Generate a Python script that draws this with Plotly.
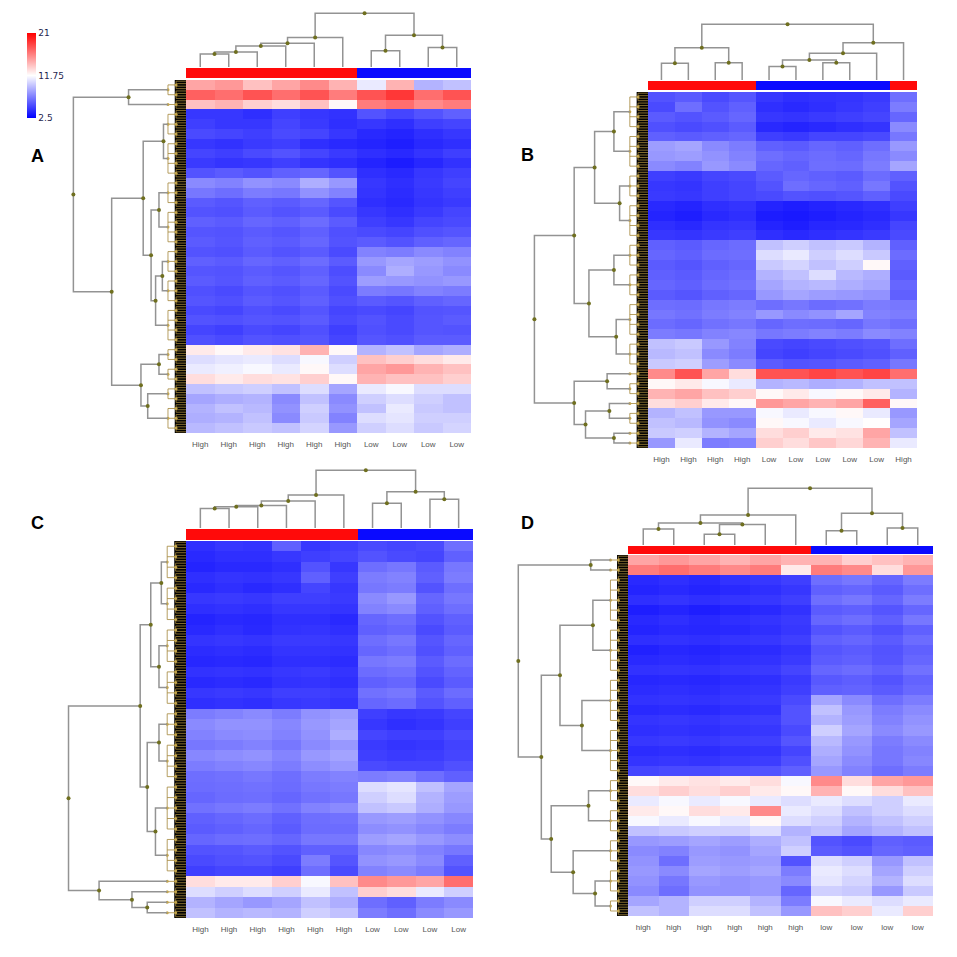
import plotly.graph_objects as go

# colour scale of the heatmaps
z_min, z_mid, z_max = 2.5, 11.75, 21

# column labels of the four panels
labels_a = ["High", "High", "High", "High", "High", "High", "Low", "Low", "Low", "Low"]
labels_b = ["High", "High", "High", "High", "Low", "Low", "Low", "Low", "Low", "High"]
labels_c = ["High", "High", "High", "High", "High", "High", "Low", "Low", "Low", "Low"]
labels_d = ["high", "high", "high", "high", "high", "high", "low", "low", "low", "low"]

# expression values, rows top -> bottom
z_a = [
    [15, 15.5, 14, 15, 16, 14.5, 11, 14.5, 9, 9.5],
    [17.5, 17, 18, 17, 18, 16.5, 18, 19, 17, 18],
    [14, 14.5, 13.5, 13, 14, 12, 16.5, 17, 16, 16.5],
    [4.5, 4.5, 4.2, 4.8, 4.5, 4.3, 5.5, 5, 5.5, 6],
    [4.8, 4.5, 4.5, 5, 4.6, 4.2, 4.5, 4.2, 4.8, 5],
    [5.2, 5, 4.8, 5.2, 5, 4.5, 4, 3.8, 4.2, 4.5],
    [4.5, 4.3, 4.6, 4.8, 4.2, 4, 3.8, 3.6, 4, 4.2],
    [5, 4.8, 5.2, 5.5, 5, 4.6, 4.2, 4, 4.4, 4.8],
    [4.6, 4.4, 4.5, 4.8, 4.4, 4.2, 3.8, 3.5, 3.9, 4.3],
    [5.5, 5.8, 5.5, 6, 6.2, 5.5, 4.2, 4, 4.5, 4.8],
    [7.5, 7.2, 7.8, 7.5, 8.8, 8, 4.5, 4.2, 4.6, 5],
    [6.8, 6.5, 7, 6.8, 7.8, 7.2, 4.4, 4.1, 4.5, 4.8],
    [5.8, 5.6, 6, 5.8, 6.2, 5.6, 4.2, 4, 4.4, 4.6],
    [5.5, 5.4, 5.8, 5.5, 5.8, 5.2, 4.5, 4.2, 4.6, 5],
    [6, 5.8, 6.2, 6, 6.4, 5.8, 4.8, 4.5, 5, 5.2],
    [5.6, 5.5, 5.8, 5.6, 6, 5.4, 5.2, 5, 5.4, 5.6],
    [5.8, 5.6, 6, 5.8, 6.2, 5.5, 5.8, 5.5, 6, 6.2],
    [5.5, 5.4, 5.8, 5.5, 5.8, 5.2, 7.2, 7, 7.5, 7.2],
    [6, 5.8, 6.2, 6, 6.4, 5.8, 8, 8.5, 8.2, 7.8],
    [5.6, 5.5, 5.8, 5.6, 6, 5.3, 7.5, 8.8, 8, 7.5],
    [5.8, 5.6, 6, 5.8, 6.2, 5.5, 8.2, 8, 7.8, 8],
    [5.4, 5.2, 5.6, 5.4, 5.8, 5.2, 7, 6.8, 7.2, 7],
    [5.6, 5.4, 5.8, 5.6, 6, 5.4, 5.8, 5.6, 6, 6.2],
    [5.2, 5, 5.4, 5.2, 5.6, 5, 5.2, 5, 5.5, 5.6],
    [5.5, 5.4, 5.6, 5.5, 5.8, 5.2, 5.5, 5.2, 5.6, 5.8],
    [5, 4.8, 5.2, 5, 5.4, 4.8, 5.4, 5.2, 5.6, 5.5],
    [5.4, 5.2, 5.5, 5.4, 5.6, 5, 5.6, 5.4, 5.8, 5.8],
    [12.5, 12, 12.5, 12.8, 14.5, 12, 9, 9.5, 8.5, 8.8],
    [10.5, 10.8, 11, 10.5, 11.5, 10, 14, 13.5, 13, 12.5],
    [11, 11.2, 11.5, 11, 12, 10.5, 15, 15.5, 14.5, 14],
    [13, 12.5, 13, 12.8, 13.5, 12, 14.5, 14, 14, 13.5],
    [9.5, 9.8, 10, 9.5, 10.5, 8.5, 11, 11.5, 10.5, 10.5],
    [8.5, 8.8, 9, 7.5, 9.5, 7.5, 10, 10.5, 10, 9.5],
    [9, 9.5, 9.2, 7.8, 10, 7.8, 9.5, 11, 9.8, 9.5],
    [8.8, 9, 9.5, 7.5, 9.8, 7.2, 10.5, 10.8, 10, 10],
    [9.2, 9.5, 9.8, 9.5, 10.2, 8, 10, 10.5, 9.8, 10.2],
]

z_b = [
    [5.5, 5.8, 5.2, 5.6, 4.5, 4.2, 4.3, 4.4, 4.6, 6.5],
    [5.2, 6.5, 5.5, 6, 4.2, 4, 4.2, 4.5, 4.8, 7],
    [5.8, 5.5, 5.8, 6.2, 4.5, 4.4, 4.6, 4.8, 5, 6.2],
    [5.4, 5.2, 5.4, 5.8, 4, 3.8, 4, 4.2, 4.4, 7.5],
    [6, 5.8, 6, 6.2, 4.8, 4.6, 5, 5, 5.2, 6.8],
    [8.2, 8.5, 7.5, 7, 6, 5.8, 6.2, 6, 6.5, 8],
    [8, 8.2, 7.8, 7.2, 6.5, 6.2, 6.4, 6.2, 6.8, 7.5],
    [7.5, 7.2, 8, 7.5, 6.2, 6, 6.5, 6.4, 7, 8.5],
    [4.8, 4.6, 5, 5.2, 5.8, 6.2, 6, 5.8, 6.4, 6],
    [4.5, 4.4, 4.8, 5, 5.5, 6.5, 6.2, 6, 6.8, 5.5],
    [4.6, 4.5, 4.8, 5, 5.2, 5.5, 5.4, 5.6, 6, 5.2],
    [4, 3.8, 4.2, 4.4, 3.8, 3.6, 3.8, 4, 4.2, 4.8],
    [3.8, 3.6, 4, 4.2, 3.5, 3.4, 3.6, 3.8, 4, 4.5],
    [4.2, 4, 4.4, 4.5, 3.8, 3.6, 3.9, 4, 4.2, 5],
    [4.5, 4.4, 4.6, 4.8, 4.2, 4, 4.2, 4.4, 4.6, 5.2],
    [6, 5.8, 6.2, 6.4, 9.5, 10, 9.5, 9.8, 9, 6],
    [6.2, 6, 6.4, 6.5, 10.5, 11, 10, 10.5, 9.8, 6.4],
    [5.8, 5.6, 6, 6.2, 9.8, 10.2, 9.5, 10, 12, 6],
    [6, 5.8, 6.2, 6.4, 9, 9.5, 10.5, 9.2, 8.8, 5.8],
    [6.2, 6, 6.4, 6.6, 8.5, 9, 9.2, 8.8, 8.5, 6.2],
    [5.8, 5.6, 6, 6.2, 8, 8.5, 8.2, 8, 7.8, 6],
    [6.5, 6.4, 6.8, 7, 6.5, 6.8, 6.4, 6.6, 7, 6.8],
    [6.8, 6.6, 7, 7.2, 8, 7.5, 7.8, 8.5, 7.2, 7],
    [6.4, 6.2, 6.6, 6.8, 6.2, 6.5, 6.4, 6.2, 6.8, 6.5],
    [7, 6.8, 7.2, 7.4, 6.8, 7, 7.2, 7, 7.5, 7.2],
    [9.5, 9.8, 8, 7.2, 5.2, 5, 5.2, 5.4, 5.6, 6.5],
    [9.2, 9.5, 7.5, 7, 5, 4.8, 5, 5.2, 5.4, 6],
    [9.8, 10, 8.2, 7.5, 5.8, 5.5, 5.6, 5.8, 6, 6.8],
    [16, 18, 15, 13, 18, 18, 18.5, 18, 18.5, 17],
    [12, 12.5, 11.5, 11, 9, 9.2, 8.8, 9, 9.5, 9.5],
    [14.5, 15, 14, 13.5, 12, 12.5, 11.5, 12, 12.5, 9],
    [13, 13.5, 12.5, 12, 15.5, 15, 14.5, 15, 17.5, 12],
    [9, 9.5, 8, 8, 11.5, 11, 11.5, 12, 11, 8],
    [9.5, 9.2, 7.8, 7.5, 12, 11.5, 11, 11.5, 11.8, 8.5],
    [9.8, 10, 9, 8.5, 13, 13.5, 12.5, 12.8, 15, 9.5],
    [8, 11, 7, 7.2, 13.5, 13, 13.8, 13.2, 14.5, 11],
]

z_c = [
    [4.2, 4.5, 4.4, 6, 4.5, 4.8, 5.2, 5, 5.2, 6.5],
    [4, 4.2, 4.2, 4.5, 4.8, 5, 5.5, 5.2, 5, 6],
    [3.8, 4, 4, 4.2, 5.5, 4.5, 6.5, 6.8, 5.8, 6.8],
    [4.2, 4.4, 4.3, 4.5, 6, 4.8, 7, 7.2, 6, 7],
    [4, 4.2, 4, 4.2, 5, 4.5, 6.8, 7, 5.5, 6.5],
    [4.5, 4.6, 4.5, 4.8, 4.8, 4.6, 7.5, 8, 6.2, 6.8],
    [4.2, 4.3, 4.2, 4.5, 4.5, 4.4, 7.2, 7.5, 6, 6.5],
    [3.8, 4, 3.9, 4.2, 4.2, 4, 6.2, 6.5, 5.5, 6],
    [4, 4.2, 4, 4.3, 4.4, 4.2, 6, 6.2, 5.2, 5.8],
    [4.4, 4.5, 4.4, 4.6, 4.6, 4.5, 6.5, 6.8, 5.6, 6.2],
    [4.1, 4.2, 4.1, 4.4, 4.4, 4.3, 6.2, 6.5, 5.4, 6],
    [3.9, 4, 3.9, 4.2, 4.2, 4.1, 6.8, 7, 5.8, 6.4],
    [4.3, 4.4, 4.3, 4.5, 4.6, 4.4, 6.4, 6.6, 5.5, 6.1],
    [4, 4.1, 4, 4.3, 4.4, 4.2, 6, 6.2, 5.2, 5.8],
    [4.5, 4.6, 4.5, 4.8, 4.8, 4.6, 6.6, 6.8, 5.8, 6.4],
    [4.2, 4.3, 4.2, 4.5, 4.6, 4.4, 6.2, 6.4, 5.5, 6],
    [7, 7.2, 7.5, 7, 7.8, 8.2, 4.8, 4.5, 4.6, 5],
    [7.5, 7.8, 7.8, 7.4, 8, 8.5, 4.5, 4.2, 4.4, 4.8],
    [7.2, 7.5, 7.6, 7.2, 7.8, 8.8, 5, 4.8, 4.8, 5.2],
    [6.8, 7, 7.2, 6.8, 7.5, 8, 4.6, 4.4, 4.5, 4.9],
    [7.4, 7.6, 7.8, 7.3, 8, 8.4, 4.8, 4.6, 4.7, 5],
    [7, 7.2, 7.4, 7, 7.6, 8, 5.2, 5, 5, 5.4],
    [6.5, 6.6, 6.8, 6.5, 7, 7.2, 7, 7.2, 6.5, 6],
    [6.4, 6.5, 6.6, 6.4, 6.8, 7, 10.5, 10.8, 9.5, 8.5],
    [6.2, 6.4, 6.5, 6.2, 6.6, 6.8, 10, 10.5, 9, 8.2],
    [6.6, 6.8, 7, 6.6, 7.2, 7.5, 9.5, 9.8, 8.8, 8],
    [6, 6.2, 6.4, 6, 6.5, 6.6, 8, 8.2, 7.8, 7.4],
    [5.8, 6, 6.2, 5.8, 6.4, 6.4, 7.6, 7.8, 7.4, 7],
    [6.2, 6.4, 6.5, 6.2, 6.8, 6.8, 8.2, 8.5, 8, 7.6],
    [5.5, 5.6, 5.8, 5.5, 6, 6, 7.4, 7.6, 7.2, 6.8],
    [5.2, 5.4, 5.5, 5.2, 7, 5.6, 7.8, 8, 7.5, 6],
    [4.8, 5, 5, 4.8, 6.5, 5.2, 7.2, 7.5, 7, 5.5],
    [13, 12.5, 12.5, 13.5, 11.5, 14, 16, 15.5, 15, 17],
    [10.5, 10, 10.5, 10, 11, 9.5, 13.5, 13, 11, 10],
    [9, 8.5, 8, 8.5, 9.5, 8.8, 6.5, 6, 7, 7.5],
    [9.5, 9, 9.2, 9, 10, 9.5, 7, 6.5, 7.5, 8],
]

z_d = [
    [15, 15.5, 15, 14.5, 15, 14.5, 14.5, 13.5, 14, 14.5],
    [16.5, 17, 16.5, 16, 16.5, 12.5, 16.5, 16, 13, 15.5],
    [4, 4.2, 4, 4.3, 4.5, 4.8, 6.5, 6.8, 6.2, 7],
    [3.8, 4, 3.8, 4, 4.2, 4.5, 6, 6.2, 5.8, 6.5],
    [4.2, 4.4, 4.2, 4.4, 4.5, 4.8, 6.5, 6.8, 6.2, 7],
    [3.6, 3.8, 3.6, 3.8, 4, 4.3, 5.8, 6, 5.6, 6.2],
    [4, 4.2, 4, 4.2, 4.4, 4.6, 6.2, 6.5, 6, 6.8],
    [3.8, 4, 3.9, 4, 4.2, 4.5, 5.5, 5.8, 5.4, 6],
    [4.2, 4.3, 4.2, 4.4, 4.5, 4.8, 6, 6.2, 5.8, 6.4],
    [3.7, 3.9, 3.8, 4, 4.1, 4.4, 5.6, 5.8, 5.5, 6],
    [4, 4.1, 4, 4.2, 4.3, 4.6, 5.8, 6, 5.6, 6.2],
    [4.3, 4.4, 4.3, 4.5, 4.6, 5, 6.2, 6.4, 6, 6.6],
    [3.9, 4, 3.9, 4.1, 4.2, 4.6, 5.7, 5.9, 5.5, 6.1],
    [4.1, 4.2, 4.1, 4.3, 4.4, 4.8, 6, 6.1, 5.8, 6.3],
    [4.3, 4.4, 4.3, 4.5, 4.6, 5.2, 8.5, 7.5, 6.5, 7],
    [4, 4.1, 4, 4.2, 4.3, 5.5, 9.5, 8, 7, 7.5],
    [4.4, 4.5, 4.4, 4.6, 4.7, 5.5, 9, 8.2, 7.2, 7.8],
    [4.2, 4.3, 4.2, 4.4, 4.5, 5.2, 10, 8.5, 7.5, 8],
    [4.5, 4.6, 4.5, 4.7, 4.8, 5.6, 9.2, 8, 7, 7.5],
    [4.1, 4.2, 4.1, 4.3, 4.4, 5, 8.8, 7.8, 6.8, 7.2],
    [4.4, 4.5, 4.4, 4.6, 4.7, 5.4, 8.5, 7.5, 6.8, 7.4],
    [5, 5.2, 5.2, 5.4, 5.5, 6, 8, 7.2, 6.5, 7],
    [12, 12.5, 12.8, 12.5, 13, 11.5, 16, 13, 15, 15.5],
    [13, 13.5, 13, 13.5, 12.5, 12, 14.5, 12, 13, 14],
    [11, 11.5, 11, 11.5, 11, 10.5, 11, 10.5, 10, 11],
    [12.5, 12, 13, 12.5, 16, 11, 10.5, 9.5, 10, 10.5],
    [11.5, 11, 11.5, 11, 12, 10.5, 10, 9, 9.5, 10],
    [9.5, 9.8, 10, 10, 10.5, 9, 9.5, 8.5, 9, 9.5],
    [8, 8.2, 8.5, 8.2, 8.8, 9.5, 5.5, 5.2, 6, 5.8],
    [7.5, 7.2, 8, 7.8, 8.5, 10, 5.8, 5.5, 6.2, 6],
    [7.8, 6.5, 8.2, 8, 8.2, 5.5, 10.5, 10, 8, 9.5],
    [8, 7.5, 8.5, 8.2, 8.5, 7, 11, 10.5, 8.5, 10],
    [7.8, 6.8, 8, 7.8, 8, 7.5, 10.8, 10.2, 9, 10.5],
    [7.5, 6.5, 7.8, 7.8, 8, 6.2, 10, 9.8, 8, 9.8],
    [8.5, 9, 10, 10, 9, 7, 11.5, 11, 10.5, 11],
    [9.5, 9, 10.5, 10.5, 9.5, 8, 14, 13.5, 11, 13.5],
]

# column clustering: (height, left, right), leaves are column indices
cols_a = (1.0, (0.55, (0.44, (0.39, (0.28, (0.24, 0, 1), 2), 3), 4), 5), (0.59, (0.3, 6, 7), (0.36, 8, 9)))
cols_b = (1.0, (0.58, (0.3, 0, 1), (0.31, 2, 3)), (0.67, (0.48, (0.36, (0.24, 4, 5), (0.31, 6, 7)), 8), 9))
cols_c = (1.0, (0.57, (0.47, (0.39, (0.37, (0.34, 0, 1), 2), 3), 4), 5), (0.63, (0.43, 6, 7), (0.5, 8, 9)))
cols_d = (1.0, (0.53, (0.39, (0.28, 0, 1), (0.36, (0.19, 2, 3), 4)), 5), (0.56, (0.25, 6, 7), (0.3, 8, 9)))

# row clustering: (height, left, right), leaves are row blocks (first, end)
rows_a = (1.0, (0.51, (0, 2), (2, 3)),
          (0.66, (0.38, (0.2, (3, 6), (6, 10)),
                  (0.31, (0.24, (10, 13), (13, 17)), (0.27, (0.21, (17, 20), (20, 23)), (23, 27)))),
           (0.4, (0.24, (27, 29), (29, 31)), (0.34, (31, 33), (33, 36)))))
rows_b = (1.0, (0.65, (0.47, (0.3, (0, 4), (4, 8)), (0.25, (8, 11), (11, 15))),
                (0.52, (0.3, (15, 18), (18, 21)), (0.28, (21, 25), (25, 28)))),
          (0.65, (0.36, (28, 29), (29, 31)), (0.55, (0.34, (31, 32), (32, 34)), (0.3, (34, 35), (35, 36)))))
rows_c = (1.0, (0.39, (0.3, (0.21, (0, 4), (4, 8)), (0.23, (8, 12), (12, 16))),
                (0.33, (0.23, (16, 19), (19, 23)), (0.26, (23, 28), (28, 32)))),
          (0.74, (32, 33), (0.46, (33, 34), (0.33, (34, 35), (35, 36)))))
rows_d = (1.0, (0.34, (0, 1), (1, 2)),
          (0.79, (0.62, (0.32, (2, 7), (7, 12)), (0.42, (12, 17), (17, 22))),
           (0.7, (0.36, (22, 25), (25, 28)), (0.5, (28, 31), (0.3, (31, 34), (34, 36))))))

panel_letters = ["A", "B", "C", "D"]

# the page has an 8px body margin, so the figure is drawn 8px in from the corner
OFF = 8
W = H = 957 - 2 * OFF
LEAF_H = 0.16
TREE_GREY = "#939393"
NODE_OLIVE = "#6f6f1f"
LEAF_GOLD = "#a3863a"

# pixel layout (page coords) of each panel: heatmap box, group bar, column tree top, row tree root
geoms = [
    dict(x0=186, x1=471, y0=80, y1=433, bar=(68, 78), top=13, root=72, letter=(37, 156)),
    dict(x0=648, x1=917, y0=92, y1=448, bar=(81, 90), top=24, root=533, letter=(527, 155)),
    dict(x0=186, x1=473, y0=541, y1=918, bar=(529, 540), top=470, root=67, letter=(37, 523)),
    dict(x0=628, x1=933, y0=555, y1=916, bar=(546, 554), top=488, root=517, letter=(527, 523)),
]


def px_x(v):
    return (v - OFF) / W


def px_y(v):
    return 1 - (v - OFF) / H


def col_tree(node, xs, ys, dots):
    if isinstance(node, int):
        return node, 0.0
    h, left, right = node
    xl, hl = col_tree(left, xs, ys, dots)
    xr, hr = col_tree(right, xs, ys, dots)
    xs += [xl, xl, xr, xr, None]
    ys += [hl, h, h, hr, None]
    xm = (xl + xr) / 2
    dots.append((xm, h))
    return xm, h


def row_tree(node, hs, rs, dots, lh, lr, ldots):
    if len(node) == 2:
        # a block of rows: a little fan of twigs down to every row
        a, b = node
        mid = LEAF_H * 0.55
        for r in range(a, b):
            lh += [LEAF_H, mid, None, mid, mid, None]
            lr += [r, r, None, r - 0.38, r + 0.38, None]
            for off in (-0.38, -0.13, 0.13, 0.38):
                lh += [mid, 0, None]
                lr += [r + off, r + off, None]
            ldots.append((mid, r))
        if b - a > 1:
            lh += [LEAF_H, LEAF_H, None]
            lr += [a, b - 1, None]
        yc = (a + b - 1) / 2
        ldots.append((LEAF_H, yc))
        return LEAF_H, yc
    h, left, right = node
    hl, yl = row_tree(left, hs, rs, dots, lh, lr, ldots)
    hr, yr = row_tree(right, hs, rs, dots, lh, lr, ldots)
    hs += [hl, h, h, hr, None]
    rs += [yl, yl, yr, yr, None]
    ym = (yl + yr) / 2
    dots.append((h, ym))
    return h, ym


fig = go.Figure()
layout_axes = {}
shapes = []
annotations = []

panels = [
    (z_a, labels_a, cols_a, rows_a),
    (z_b, labels_b, cols_b, rows_b),
    (z_c, labels_c, cols_c, rows_c),
    (z_d, labels_d, cols_d, rows_d),
]

for p, (z, labels, ctree, rtree) in enumerate(panels):
    g = geoms[p]
    n_rows = len(z)
    n_cols = len(labels)
    ids = [p * 4 + k + 1 for k in range(4)]
    xa = ["x" if i == 1 else f"x{i}" for i in ids]
    ya = ["y" if i == 1 else f"y{i}" for i in ids]
    xk = ["xaxis" if i == 1 else f"xaxis{i}" for i in ids]
    yk = ["yaxis" if i == 1 else f"yaxis{i}" for i in ids]
    hidden = dict(visible=False, showgrid=False, zeroline=False, fixedrange=True)

    # heatmap
    fig.add_trace(go.Heatmap(z=z, x=list(range(n_cols)), y=list(range(n_rows)),
                             coloraxis="coloraxis", xaxis=xa[0], yaxis=ya[0],
                             hoverinfo="skip"))
    layout_axes[xk[0]] = dict(domain=[px_x(g["x0"]), px_x(g["x1"])], anchor=ya[0],
                              range=[-0.5, n_cols - 0.5], tickvals=list(range(n_cols)),
                              ticktext=labels, showgrid=False, zeroline=False,
                              ticks="outside", ticklen=3, tickcolor="rgba(0,0,0,0)",
                              tickfont=dict(family="Liberation Sans", size=8, color="#555555"))
    layout_axes[yk[0]] = dict(domain=[px_y(g["y1"]), px_y(g["y0"])], anchor=xa[0],
                              range=[n_rows - 0.5, -0.5], **hidden)

    # group bar
    bar_z = [[1 if lab.lower() == "high" else 0 for lab in labels]]
    fig.add_trace(go.Heatmap(z=bar_z, x=list(range(n_cols)), zmin=0, zmax=1,
                             colorscale=[[0, "#0a0aff"], [1, "#ff0a0a"]], showscale=False,
                             xaxis=xa[1], yaxis=ya[1], hoverinfo="skip"))
    layout_axes[xk[1]] = dict(domain=[px_x(g["x0"]), px_x(g["x1"])], anchor=ya[1],
                              range=[-0.5, n_cols - 0.5], **hidden)
    layout_axes[yk[1]] = dict(domain=[px_y(g["bar"][1]), px_y(g["bar"][0])], anchor=xa[1],
                              range=[-0.5, 0.5], **hidden)

    # column dendrogram
    xs, ys, dots = [], [], []
    col_tree(ctree, xs, ys, dots)
    fig.add_trace(go.Scatter(x=xs, y=ys, mode="lines", line=dict(color=TREE_GREY, width=1.5),
                             xaxis=xa[2], yaxis=ya[2], hoverinfo="skip", showlegend=False))
    fig.add_trace(go.Scatter(x=[d[0] for d in dots], y=[d[1] for d in dots], mode="markers",
                             marker=dict(color=NODE_OLIVE, size=4), xaxis=xa[2], yaxis=ya[2],
                             hoverinfo="skip", showlegend=False))
    layout_axes[xk[2]] = dict(domain=[px_x(g["x0"]), px_x(g["x1"])], anchor=ya[2],
                              range=[-0.5, n_cols - 0.5], **hidden)
    layout_axes[yk[2]] = dict(domain=[px_y(g["bar"][0] - 1), px_y(g["top"] - 2)], anchor=xa[2],
                              range=[0, 1.04], **hidden)

    # row dendrogram
    hs, rs, rdots, lh, lr, ldots = [], [], [], [], [], []
    row_tree(rtree, hs, rs, rdots, lh, lr, ldots)
    shapes.append(dict(type="rect", xref=xa[3], yref=ya[3], x0=0, x1=0.1,
                       y0=-0.5, y1=n_rows - 0.5, fillcolor="black", line=dict(width=0),
                       layer="below"))
    fig.add_trace(go.Scatter(x=lh, y=lr, mode="lines", line=dict(color=LEAF_GOLD, width=0.8),
                             xaxis=xa[3], yaxis=ya[3], hoverinfo="skip", showlegend=False))
    fig.add_trace(go.Scatter(x=[d[0] for d in ldots], y=[d[1] for d in ldots], mode="markers",
                             marker=dict(color="#c4a64c", size=3), xaxis=xa[3], yaxis=ya[3],
                             hoverinfo="skip", showlegend=False))
    fig.add_trace(go.Scatter(x=hs, y=rs, mode="lines", line=dict(color=TREE_GREY, width=1.5),
                             xaxis=xa[3], yaxis=ya[3], hoverinfo="skip", showlegend=False))
    fig.add_trace(go.Scatter(x=[d[0] for d in rdots], y=[d[1] for d in rdots],
                             mode="markers", marker=dict(color=NODE_OLIVE, size=4),
                             xaxis=xa[3], yaxis=ya[3], hoverinfo="skip", showlegend=False))
    layout_axes[xk[3]] = dict(domain=[px_x(g["root"] - 2), px_x(g["x0"])], anchor=ya[3],
                              range=[1.03, 0], **hidden)
    layout_axes[yk[3]] = dict(domain=[px_y(g["y1"]), px_y(g["y0"])], anchor=xa[3],
                              range=[n_rows - 0.5, -0.5], **hidden)

    annotations.append(dict(text=f"<b>{panel_letters[p]}</b>", xref="paper", yref="paper",
                            x=px_x(g["letter"][0]), y=px_y(g["letter"][1]),
                            xanchor="center", yanchor="middle", showarrow=False,
                            font=dict(family="Liberation Sans", size=18, color="black")))

fig.update_layout(
    width=W, height=H,
    margin=dict(l=0, r=0, t=0, b=0),
    paper_bgcolor="white", plot_bgcolor="white",
    showlegend=False,
    shapes=shapes,
    annotations=annotations,
    coloraxis=dict(
        cmin=z_min, cmax=z_max,
        colorscale=[[0, "#0000ff"], [0.5, "#ffffff"], [1, "#ff0000"]],
        colorbar=dict(x=px_x(27), xanchor="left", y=px_y(33), yanchor="top",
                      len=85 / H, lenmode="fraction", thickness=9, thicknessmode="pixels",
                      xpad=0, ypad=0, outlinewidth=0, ticks="",
                      tickvals=[z_min, z_mid, z_max], ticktext=["2.5", "11.75", "21"],
                      tickfont=dict(family="DejaVu Sans", size=9, color="#1f1f4f")),
    ),
    **layout_axes,
)

fig.write_html("out.html")
